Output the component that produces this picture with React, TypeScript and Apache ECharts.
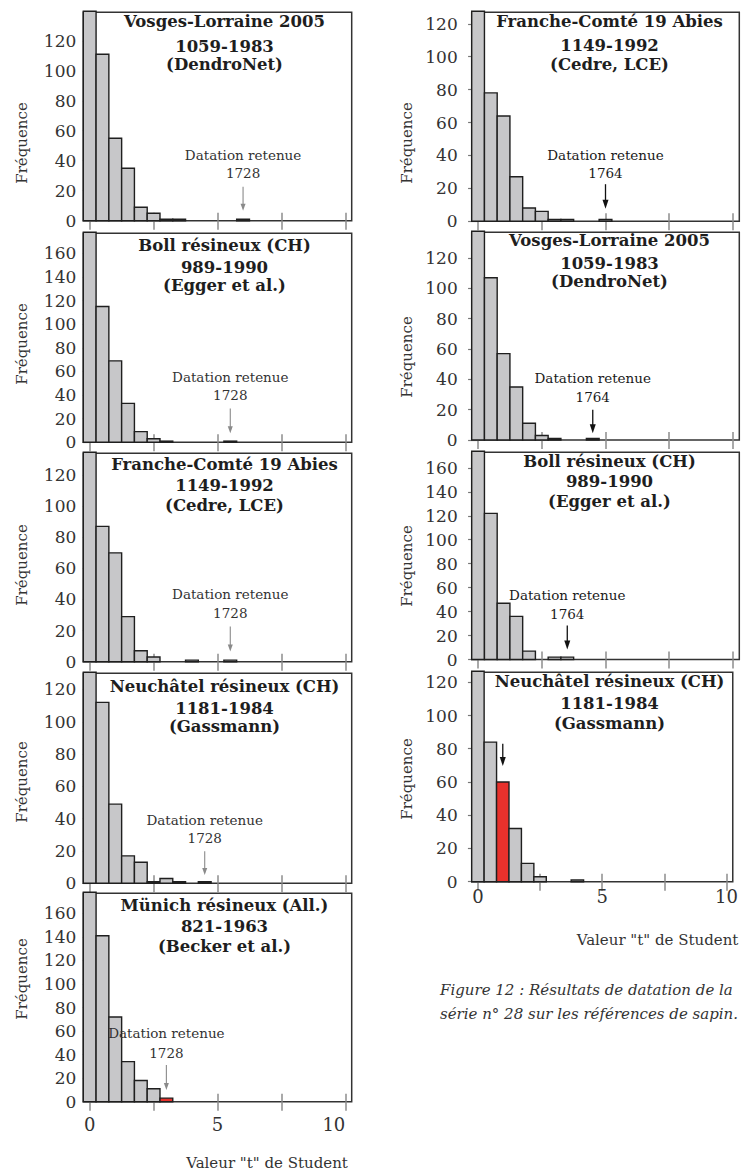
import React, { useEffect, useRef } from "react";
import * as echarts from "echarts";

// ---------- data ----------
const BIN_CENTERS = [0, 0.5, 1, 1.5, 2, 2.5, 3, 3.5, 4, 4.5, 5, 5.5, 6];
const X_TICKS = [0, 2.5, 5, 7.5, 10];
const X_LABELS = [0, 5, 10];
const Y_TICKS_120 = [0, 20, 40, 60, 80, 100, 120];
const Y_TICKS_160 = [0, 20, 40, 60, 80, 100, 120, 140, 160];

const vosgesLeft = [150, 111, 55, 35, 9, 5, 1, 1, 0, 0, 0, 0, 1];
const bollLeft = [190, 115, 69, 33, 9, 3, 1, 0, 0, 0, 0, 1, 0];
const francheLeft = [150, 87, 70, 29, 7, 3, 0, 0, 1, 0, 0, 1, 0];
const neuchatelLeft = [150, 112, 49, 17, 13, 1, 3, 1, 0, 1, 0, 0, 0];
const munichLeft = [190, 141, 72, 34, 18, 11, 3, 0, 0, 0, 0, 0, 0];
const francheRight = [150, 78, 64, 27, 8, 6, 1, 1, 0, 0, 1, 0, 0];
const vosgesRight = [150, 107, 57, 35, 11, 3, 1, 0, 0, 1, 0, 0, 0];
const bollRight = [190, 122, 47, 36, 7, 0, 2, 2, 0, 0, 0, 0, 0];
const neuchatelRight = [150, 84, 60, 32, 11, 3, 0, 0, 1, 0, 0, 0, 0];

const TITLE_VOSGES = ["Vosges-Lorraine 2005", "1059-1983", "(DendroNet)"];
const TITLE_BOLL = ["Boll résineux (CH)", "989-1990", "(Egger et al.)"];
const TITLE_FRANCHE = ["Franche-Comté 19 Abies", "1149-1992", "(Cedre, LCE)"];
const TITLE_NEUCHATEL = ["Neuchâtel résineux (CH)", "1181-1984", "(Gassmann)"];
const TITLE_MUNICH = ["Münich résineux (All.)", "821-1963", "(Becker et al.)"];

// retained dating: bin (t value) pointed at, year label, highlighted bin index
const RETAINED_X = [6.0, 5.5, 5.5, 4.5, 3.0, 5.0, 4.5, 3.5, 1.0];
const RETAINED_YEAR = ["1728", "1728", "1728", "1728", "1728", "1764", "1764", "1764", ""];
const RED_BIN = [-1, -1, -1, -1, 6, -1, -1, -1, 2];
const Y_MAX = [139, 177, 134, 130, 177, 127, 137, 173, 126];

const X_NAME = 'Valeur "t" de Student';
const Y_NAME = "Fréquence";
const LABEL_RETENUE = "Datation retenue";
const CAPTION = [
  "Figure 12 : Résultats de datation de la",
  "série n° 28 sur les références de sapin.",
];

// ---------- layout ----------
const SERIF = "'DejaVu Serif', serif";
const L_LEFT = 83.3, L_RIGHT = 351.7;
const R_LEFT = 471.7, R_RIGHT = 739.3;

type Panel = {
  values: number[];
  title: string[];
  yTicks: number[];
  left: number; right: number; top: number; bottom: number;
  titleOff: number[];
  freqY: number;
  ann: number[]; // datation text y, year y, arrow top, arrow tip (data units)
  xLabelMargin: number | null;
  col: 0 | 1;
};

const panels: Panel[] = [
  { values: vosgesLeft, title: TITLE_VOSGES, yTicks: Y_TICKS_120, left: L_LEFT, right: L_RIGHT, top: 12.3, bottom: 220.7, titleOff: [9.4, 33.7, 51.7], freqY: 143, ann: [43.8, 31.6, 22.7, 6.7], xLabelMargin: null, col: 0 },
  { values: bollLeft, title: TITLE_BOLL, yTicks: Y_TICKS_160, left: L_LEFT, right: L_RIGHT, top: 233.3, bottom: 442.3, titleOff: [12.4, 34, 52.4], freqY: 344, ann: [55.7, 39.7, 28.7, 7.6], xLabelMargin: null, col: 0 },
  { values: francheLeft, title: TITLE_FRANCHE, yTicks: Y_TICKS_120, left: L_LEFT, right: L_RIGHT, top: 453.3, bottom: 661.7, titleOff: [11, 32.4, 51.7], freqY: 565, ann: [43.5, 31.2, 22.6, 6.5], xLabelMargin: null, col: 0 },
  { values: neuchatelLeft, title: TITLE_NEUCHATEL, yTicks: Y_TICKS_120, left: L_LEFT, right: L_RIGHT, top: 673.3, bottom: 883.3, titleOff: [13.4, 35, 53.4], freqY: 782, ann: [39, 27.8, 19.9, 5.1], xLabelMargin: null, col: 0 },
  { values: munichLeft, title: TITLE_MUNICH, yTicks: Y_TICKS_160, left: L_LEFT, right: L_RIGHT, top: 893.3, bottom: 1101.7, titleOff: [11.7, 33.4, 52.7], freqY: 979, ann: [58.1, 41.6, 31.2, 9.9], xLabelMargin: 14, col: 0 },
  { values: francheRight, title: TITLE_FRANCHE, yTicks: Y_TICKS_120, left: R_LEFT, right: R_RIGHT, top: 12.3, bottom: 221.2, titleOff: [9.4, 33.5, 51.7], freqY: 143, ann: [40.3, 29, 22.5, 7.6], xLabelMargin: null, col: 1 },
  { values: vosgesRight, title: TITLE_VOSGES, yTicks: Y_TICKS_120, left: R_LEFT, right: R_RIGHT, top: 232.3, bottom: 440, titleOff: [7.7, 31, 49.4], freqY: 357, ann: [41.1, 28.2, 20, 4.4], xLabelMargin: null, col: 1 },
  { values: bollRight, title: TITLE_BOLL, yTicks: Y_TICKS_160, left: R_LEFT, right: R_RIGHT, top: 452.3, bottom: 659.5, titleOff: [9.4, 29.4, 48.7], freqY: 566, ann: [53.9, 38, 28.3, 8.3], xLabelMargin: null, col: 1 },
  { values: neuchatelRight, title: TITLE_NEUCHATEL, yTicks: Y_TICKS_120, left: R_LEFT, right: R_RIGHT, top: 672.3, bottom: 881.7, titleOff: [8.7, 31, 51], freqY: 779, ann: [NaN, NaN, 83, 69.6], xLabelMargin: 6, col: 1 },
];

function barRenderer(params: any, api: any) {
  const x = api.value(0);
  const y = api.value(1);
  const red = api.value(2) === 1;
  const p0 = api.coord([x - 0.25, y]);
  const p1 = api.coord([x + 0.25, 0]);
  const cs = params.coordSys;
  const shape = echarts.graphic.clipRectByRect(
    { x: p0[0], y: p0[1], width: p1[0] - p0[0], height: p1[1] - p0[1] },
    { x: cs.x, y: cs.y - 1, width: cs.width, height: cs.height + 1 }
  );
  if (!shape) return null;
  return {
    type: "rect",
    shape,
    style: {
      fill: red ? "#e8312c" : "#c7c7c9",
      stroke: "#1f1f1f",
      lineWidth: 1.4,
    },
  };
}

function annRenderer(dark: boolean, year: string) {
  return (params: any, api: any) => {
    const x = api.value(0);
    const children: any[] = [];
    const textColor = dark ? "#1a1a1a" : "#333";
    const arrowColor = dark ? "#111" : "#8a8a8a";
    const yd = api.value(1);
    const yy = api.value(2);
    if (!isNaN(yd)) {
      const pd = api.coord([x, yd]);
      children.push({
        type: "text", x: pd[0], y: pd[1],
        style: { text: LABEL_RETENUE, fontFamily: SERIF, fontSize: 13.5, fill: textColor, align: "center", verticalAlign: "middle", textAlign: "center", textVerticalAlign: "middle" },
      });
    }
    if (!isNaN(yy) && year) {
      const py = api.coord([x, yy]);
      children.push({
        type: "text", x: py[0], y: py[1],
        style: { text: year, fontFamily: SERIF, fontSize: 13.5, fill: textColor, align: "center", verticalAlign: "middle", textAlign: "center", textVerticalAlign: "middle" },
      });
    }
    const pt = api.coord([x, api.value(3)]);
    const pb = api.coord([x, api.value(4)]);
    const hw = dark ? 3 : 2.5;
    const hl = dark ? 9 : 7;
    children.push({
      type: "line",
      shape: { x1: pt[0], y1: pt[1], x2: pb[0], y2: pb[1] - hl + 1 },
      style: { stroke: arrowColor, lineWidth: dark ? 1.3 : 1.1 },
    });
    children.push({
      type: "polygon",
      shape: { points: [[pb[0] - hw, pb[1] - hl], [pb[0] + hw, pb[1] - hl], [pb[0], pb[1]]] },
      style: { fill: arrowColor },
    });
    return { type: "group", children };
  };
}

function buildOption() {
  const grid: any[] = [];
  const xAxis: any[] = [];
  const yAxis: any[] = [];
  const series: any[] = [];
  const graphic: any[] = [];

  panels.forEach((p, i) => {
    grid.push({
      left: p.left, top: p.top, width: p.right - p.left, height: p.bottom - p.top,
      show: true, borderColor: "#333", borderWidth: 1.5, backgroundColor: "transparent",
    });
    const tickStyle = { color: "#8c8c8c", width: 1.5 };
    xAxis.push({
      gridIndex: i, type: "value", min: -0.25, max: 10.25, position: "bottom",
      axisLine: { show: false }, splitLine: { show: false },
      axisTick: { show: true, inside: true, length: 8, customValues: X_TICKS, lineStyle: tickStyle },
      axisLabel: { show: false },
    });
    xAxis.push({
      gridIndex: i, type: "value", min: -0.25, max: 10.25, position: "bottom",
      axisLine: { show: false }, splitLine: { show: false },
      axisTick: { show: true, inside: false, length: 9, customValues: X_TICKS, lineStyle: tickStyle },
      axisLabel: p.xLabelMargin != null
        ? { show: true, customValues: X_LABELS, margin: p.xLabelMargin, fontFamily: SERIF, fontSize: 18, color: "#333", alignMaxLabel: p.col === 0 ? "right" : undefined }
        : { show: false },
    });
    yAxis.push({
      gridIndex: i, type: "value", min: 0, max: Y_MAX[i],
      axisLine: { show: false }, splitLine: { show: false },
      axisTick: { show: true, length: p.col === 0 ? 7 : 10, customValues: p.yTicks, lineStyle: { color: "#777", width: 1.2 } },
      axisLabel: { show: true, customValues: p.yTicks, margin: p.col === 0 ? 7 : 14, fontFamily: SERIF, fontSize: 17, color: "#333" },
    });

    const data = BIN_CENTERS.map((c, k) => [c, p.values[k], k === RED_BIN[i] ? 1 : 0]).filter((d) => d[1] > 0);
    series.push({
      type: "custom", xAxisIndex: 2 * i, yAxisIndex: i, renderItem: barRenderer,
      data, encode: { x: 0, y: 1 }, z: 2, silent: true,
    });
    series.push({
      type: "custom", xAxisIndex: 2 * i, yAxisIndex: i,
      renderItem: annRenderer(p.col === 1, RETAINED_YEAR[i]),
      data: [[RETAINED_X[i], p.ann[0], p.ann[1], p.ann[2], p.ann[3]]],
      encode: { x: 0, y: 3 }, z: 5, silent: true, clip: false,
    });

    // titles
    const cx = (p.left + p.right) / 2 + (p.col === 0 ? 7 : 4);
    p.title.forEach((t, k) => {
      graphic.push({
        type: "text", x: cx, y: p.top + p.titleOff[k],
        style: { text: t, fontFamily: SERIF, fontWeight: "bold", fontSize: 16.5, fill: "#1e1e1e", align: "center", verticalAlign: "middle", textAlign: "center", textVerticalAlign: "middle" },
        z: 10,
      });
    });
    // y name
    graphic.push({
      type: "text", x: p.col === 0 ? 21.7 : 406.7, y: p.freqY, rotation: Math.PI / 2,
      style: { text: Y_NAME, fontFamily: SERIF, fontSize: 15, fill: "#333", align: "center", verticalAlign: "middle", textAlign: "center", textVerticalAlign: "middle" },
    });
  });

  graphic.push({
    type: "text", x: 267, y: 1163,
    style: { text: X_NAME, fontFamily: SERIF, fontSize: 15, fill: "#333", align: "center", verticalAlign: "middle", textAlign: "center", textVerticalAlign: "middle" },
  });
  graphic.push({
    type: "text", x: 657.5, y: 940,
    style: { text: X_NAME, fontFamily: SERIF, fontSize: 15, fill: "#333", align: "center", verticalAlign: "middle", textAlign: "center", textVerticalAlign: "middle" },
  });
  CAPTION.forEach((line, k) => {
    graphic.push({
      type: "text", x: 440, y: 990 + k * 24.3,
      style: { text: line, fontFamily: SERIF, fontStyle: "italic", fontSize: 15, fill: "#333", align: "left", verticalAlign: "middle", textAlign: "left", textVerticalAlign: "middle" },
    });
  });

  return { animation: false, backgroundColor: "#ffffff", grid, xAxis, yAxis, series, graphic };
}

export default function App() {
  const ref = useRef<HTMLDivElement>(null);
  useEffect(() => {
    if (!ref.current) return;
    const chart = echarts.init(ref.current, undefined, { renderer: "svg" });
    chart.setOption(buildOption() as any);
    return () => chart.dispose();
  }, []);
  return (
    <div
      ref={ref}
      style={{ position: "absolute", left: 0, top: 0, width: 741, height: 1174, background: "#fff" }}
    />
  );
}
